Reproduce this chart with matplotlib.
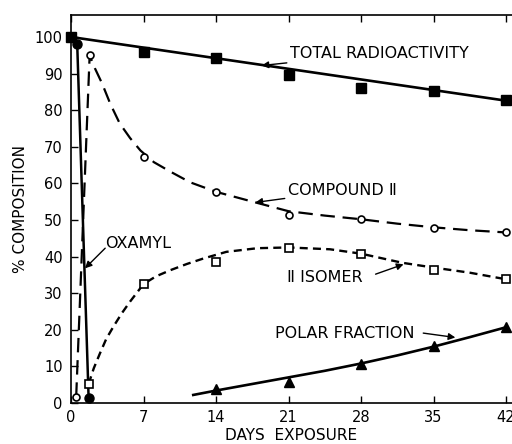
import numpy as np
import matplotlib
matplotlib.use("Agg")
import matplotlib.pyplot as plt

# Measured points (days, % composition)
total_days = [0, 7, 14, 21, 28, 35, 42]
total_vals = [100, 96, 94.2, 89.6, 86, 85.3, 82.8]
total_fit_days = [0, 42]
total_fit_vals = [100, 82.6]

oxamyl_days = [0, 0.6, 1.7]
oxamyl_vals = [100, 98, 1.4]

comp2_days = [0.5, 1.8, 7, 14, 21, 28, 35, 42]
comp2_vals = [1.7, 95, 67.3, 57.7, 51.4, 50.3, 47.9, 46.6]
# hand-drawn curve
comp2_fit_days = [0.5, 1.8, 2.3, 3.0, 3.8, 4.7, 5.7, 6.7, 8.0, 9.6, 11.5, 14,
                  17.8, 21, 24.5, 28, 31.5, 35, 38.5, 42]
comp2_fit_vals = [1.7, 95, 91.5, 87.3, 81.7, 76.4, 72.4, 69, 65.8, 63.2, 60.3, 57.7,
                  54.8, 52.4, 51.2, 50.2, 49.0, 48.0, 47.2, 46.6]

isomer_days = [1.7, 7, 14, 21, 28, 35, 42]
isomer_vals = [5.2, 32.5, 38.4, 42.4, 40.6, 36.3, 33.8]
isomer_fit_days = [1.7, 2.2, 2.8, 3.4, 4.1, 4.9, 5.7, 7, 8.2, 9.6, 11.2, 12.8, 15,
                   18, 21, 25, 28, 32, 35, 38.5, 42]
isomer_fit_vals = [5.2, 9.5, 13.6, 17.5, 20.9, 24.5, 27.7, 32.5, 34.6, 36.3, 38.0, 39.5, 41.3,
                   42.3, 42.5, 42, 40.8, 38.3, 37.0, 35.6, 33.8]

polar_days = [14, 21, 28, 35, 42]
polar_vals = [3.7, 5.8, 10.7, 15.6, 20.7]
polar_fit_days = [11.8, 14, 17.5, 21, 24.5, 28, 31.5, 35, 38.5, 42]
polar_fit_vals = [2.2, 3.4, 5.2, 7.0, 8.8, 10.8, 13.0, 15.4, 18.0, 20.7]

xticks = [0, 7, 14, 21, 28, 35, 42]
yticks = list(range(0, 101, 10))

plt.rcParams['font.family'] = ['DejaVu Sans']

fig = plt.figure(figsize=(5.12, 4.44), dpi=100)
ax = fig.add_axes([71/512, 41/444, 441/512, 388/444])
ax.set_xlim(0, 441/10.36)
ax.set_ylim(0, 388/3.66)

k = 'black'
# total radioactivity
ax.plot(total_fit_days, total_fit_vals, color=k, lw=1.9, clip_on=False)
ax.plot(total_days, total_vals, 's', color=k, ms=6.5, clip_on=False)
# oxamyl
ax.plot(oxamyl_days, oxamyl_vals, '-o', color=k, lw=1.8, ms=6.5, clip_on=False)
# compound II
ax.plot(comp2_fit_days, comp2_fit_vals, color=k, lw=1.6, dashes=(6.5, 3.5),
        solid_joinstyle='round', dash_joinstyle='round', clip_on=False)
ax.plot(comp2_days, comp2_vals, 'o', mfc='white', mec=k, mew=1.2, ms=5, clip_on=False)
# II isomer
ax.plot(isomer_fit_days, isomer_fit_vals, color=k, lw=1.7, dashes=(3.4, 2.2),
        dash_joinstyle='round', clip_on=False)
ax.plot(isomer_days, isomer_vals, 's', mfc='white', mec=k, mew=1.2, ms=5.5, clip_on=False)
# polar fraction
ax.plot(polar_fit_days, polar_fit_vals, color=k, lw=1.9, clip_on=False)
ax.plot(polar_days, polar_vals, '^', color=k, ms=7, clip_on=False)

# labels with arrows
arr = dict(arrowstyle='-|>', color=k, lw=1.0, mutation_scale=10, shrinkA=0, shrinkB=0)
fs = 11.5
ax.annotate('TOTAL RADIOACTIVITY', xy=(18.4, 92.2), xytext=(21.1, 95.6),
            ha='left', va='center', fontsize=fs, arrowprops=arr)
ax.annotate('COMPOUND Ⅱ', xy=(17.8, 54.8), xytext=(20.9, 58.0),
            ha='left', va='center', fontsize=fs, arrowprops=arr)
ax.text(20.85, 34.4, 'Ⅱ ISOMER', ha='left', va='center', fontsize=fs)
ax.annotate('', xy=(32.1, 37.9), xytext=(29.4, 35.2), arrowprops=arr)
ax.text(19.7, 19.1, 'POLAR FRACTION', ha='left', va='center', fontsize=fs)
ax.annotate('', xy=(37.1, 17.9), xytext=(34.0, 19.1), arrowprops=arr)
ax.text(3.3, 43.7, 'OXAMYL', ha='left', va='center', fontsize=fs)
ax.annotate('', xy=(1.35, 36.8), xytext=(3.3, 42.3), arrowprops=arr)

ax.spines['right'].set_visible(False)
for s in ['top', 'left', 'bottom']:
    ax.spines[s].set_linewidth(1.2)
ax.set_xticks(xticks)
ax.set_yticks(yticks)
ax.tick_params(axis='both', direction='in', length=5, width=1.0, labelsize=10.5)
ax.tick_params(axis='x', top=True, pad=5)
ax.tick_params(axis='y', pad=6)

ax.set_xlabel('DAYS  EXPOSURE', fontsize=11, labelpad=2)
ax.set_ylabel('% COMPOSITION', fontsize=11, labelpad=5)

fig.savefig('out.png', dpi=100)
